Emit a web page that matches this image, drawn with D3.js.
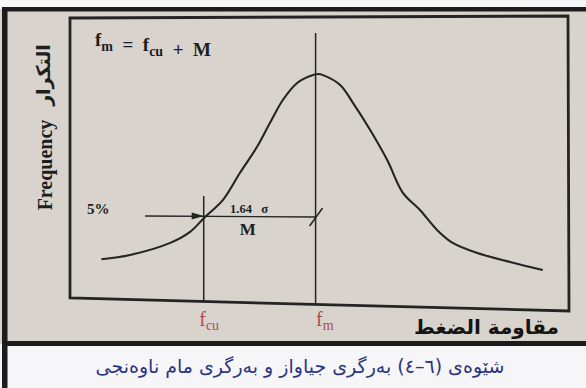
<!DOCTYPE html>
<html><head><meta charset="utf-8">
<script src="https://cdn.jsdelivr.net/npm/d3@7"></script>
<style>html,body{margin:0;padding:0;background:#f5f5f7;}svg{display:block;}</style>
</head><body>
<svg id="chart" width="586" height="388"></svg>
<script>
// ---- data (x in σ units relative to the mean strength f_m, y = relative frequency) ----
const curveX = [-3.14,-2.72,-2.13,-1.84,-1.62,-1.36,-1.11,-0.86,-0.67,-0.48,-0.27,-0.08,0.04,0.11,0.36,0.55,0.80,1.05,1.28,1.53,1.78,2.01,2.37,2.85,3.33];
const curveY = [0.173,0.192,0.246,0.295,0.362,0.437,0.558,0.674,0.781,0.884,0.960,0.991,1.000,0.995,0.951,0.870,0.750,0.616,0.469,0.393,0.304,0.246,0.201,0.161,0.125];
const tickValues = [-1.64, 0];
const tickMain = ["f", "f"];
const tickSub = ["cu", "m"];
const marginLevel = 0.366;      // level of the 5% arrow / M dimension line
const arrowStart = -2.5;
const fcuTop = 0.455, fmTop = 1.183;
const xDomain = [-3.6, 3.7];
const yDomain = [0, 1.25];
const formulaParts = [["f","m"],["  =  f","cu"],["  +  M",""]];
const yLabel = "Frequency";
const yLabelAr = "التكرار";
const xLabelAr = "مقاومة الضغط";
const caption = "شێوەی (٦–٤) بەرگری جیاواز و بەرگری مام ناوەنجی";

const svg = d3.select("#chart");
const W = 586, H = 388;
const serif = "'Liberation Serif','Times New Roman',serif";
const arab = "'DejaVu Sans',sans-serif";

// backgrounds
svg.append("rect").attr("width", W).attr("height", H).attr("fill", "#f6f6f8");
svg.append("rect").attr("x", 0).attr("y", 9).attr("width", W).attr("height", 335).attr("fill", "#d8d4cd");
svg.append("rect").attr("x", 2).attr("y", 7).attr("width", W - 2).attr("height", 4.5).attr("fill", "#1c1c1c");
svg.append("rect").attr("x", 2).attr("y", 341).attr("width", W - 2).attr("height", 5).attr("fill", "#1c1c1c");
svg.append("rect").attr("x", 2).attr("y", 7).attr("width", 5.5).attr("height", H - 7).attr("fill", "#1c1c1c");

const x = d3.scaleLinear().domain(xDomain).range([70, 568]);
const y = d3.scaleLinear().domain(yDomain).range([298, 18]);
const tilt = 13; // photographed page: bottom edge slopes
const bottomAt = px => y(0) + (px - x(xDomain[0])) / (x(xDomain[1]) - x(xDomain[0])) * tilt;

const ink = "#242424";
// frame
svg.append("path")
  .attr("d", `M${x(xDomain[0])},${y(yDomain[1])} L${x(xDomain[1])},${y(yDomain[1]) - 2} L${x(xDomain[1]) + 1},${bottomAt(x(xDomain[1]))} L${x(xDomain[0])},${y(0)} Z`)
  .attr("fill", "none").attr("stroke", ink).attr("stroke-width", 2.8);

// vertical lines fcu, fm
[[tickValues[0], fcuTop], [tickValues[1], fmTop]].forEach(([v, top]) => {
  svg.append("line").attr("x1", x(v)).attr("x2", x(v))
    .attr("y1", y(top)).attr("y2", bottomAt(x(v)))
    .attr("stroke", ink).attr("stroke-width", 1.5);
});

// curve
const pts = curveX.map((v, i) => [v, curveY[i]]);
svg.append("path").datum(pts)
  .attr("d", d3.line().x(d => x(d[0])).y(d => y(d[1])).curve(d3.curveCatmullRom))
  .attr("fill", "none").attr("stroke", ink).attr("stroke-width", 2.1);

// arrow line and dimension line
const ay = y(marginLevel);
svg.append("line").attr("x1", x(arrowStart)).attr("x2", x(tickValues[1]))
  .attr("y1", ay).attr("y2", ay + 1).attr("stroke", ink).attr("stroke-width", 1.4);
const tipX = x(tickValues[0]);
svg.append("path").attr("d", `M${tipX},${ay} L${tipX - 12},${ay - 3.5} L${tipX - 12},${ay + 3.5} Z`).attr("fill", ink);
// slash mark at fm
const fx = x(tickValues[1]);
svg.append("line").attr("x1", fx - 6).attr("y1", ay + 10).attr("x2", fx + 7).attr("y2", ay - 8)
  .attr("stroke", ink).attr("stroke-width", 1.5);

// texts
svg.append("text").attr("x", 87).attr("y", 214).attr("font-family", serif).attr("font-weight", "bold")
  .attr("font-size", 15).attr("fill", "#1e1e1e").text("5%");
svg.append("text").attr("x", 230).attr("y", 213).attr("font-family", serif).attr("font-weight", "bold")
  .attr("font-size", 12.5).attr("fill", "#1e1e1e").attr("xml:space", "preserve").text("1.64   σ");
svg.append("text").attr("x", (tipX + fx) / 2 - 12).attr("y", 235).attr("text-anchor", "middle")
  .attr("font-family", serif).attr("font-weight", "bold").attr("font-size", 17).attr("fill", "#1e1e1e").text("M");

// formula
const ft = svg.append("text").attr("x", 95).attr("y", 46).attr("font-family", serif)
  .attr("font-weight", "bold").attr("font-size", 19).attr("fill", "#1e1e1e").attr("xml:space", "preserve");
formulaParts.forEach(([m, s]) => {
  ft.append("tspan").text(m);
  if (s) { ft.append("tspan").attr("font-size", 14).attr("dy", 5).text(s); ft.append("tspan").attr("dy", -5).text(""); }
});

// y labels
svg.append("text").attr("transform", "translate(52,165) rotate(-90)").attr("text-anchor", "middle")
  .attr("font-family", serif).attr("font-weight", "bold").attr("font-size", 20).attr("fill", "#1e1e1e").text(yLabel);
svg.append("text").attr("transform", "translate(50,75) rotate(-90)").attr("text-anchor", "middle")
  .attr("font-family", arab).attr("font-weight", "bold").attr("font-size", 19).attr("fill", "#1e1e1e")
  .attr("direction", "rtl").text(yLabelAr);

// x axis labels via d3 axis
const axis = d3.axisBottom(x).tickValues(tickValues).tickSize(0).tickPadding(12).tickFormat(() => "");
const ag = svg.append("g").attr("transform", "translate(0,300)").call(axis);
ag.select(".domain").remove();
ag.selectAll(".tick text").each(function(d, i) {
  const t = d3.select(this).attr("text-anchor", "start").attr("dx", i === 0 ? -5 : 0)
    .attr("font-family", serif).attr("font-size", 20).attr("fill", "#b04a55");
  t.append("tspan").text(tickMain[i]);
  t.append("tspan").attr("font-size", 14).attr("dy", 4).text(tickSub[i]);
});

svg.append("text").attr("x", 559).attr("y", 334).attr("text-anchor", "start").attr("direction", "rtl")
  .attr("font-family", arab).attr("font-weight", "bold").attr("font-size", 20).attr("fill", "#141414").text(xLabelAr);

// caption
svg.append("text").attr("x", 300).attr("y", 373).attr("text-anchor", "middle").attr("direction", "rtl")
  .attr("font-family", arab).attr("font-size", 19).attr("fill", "#2b3580").text(caption);
</script>
</body></html>
